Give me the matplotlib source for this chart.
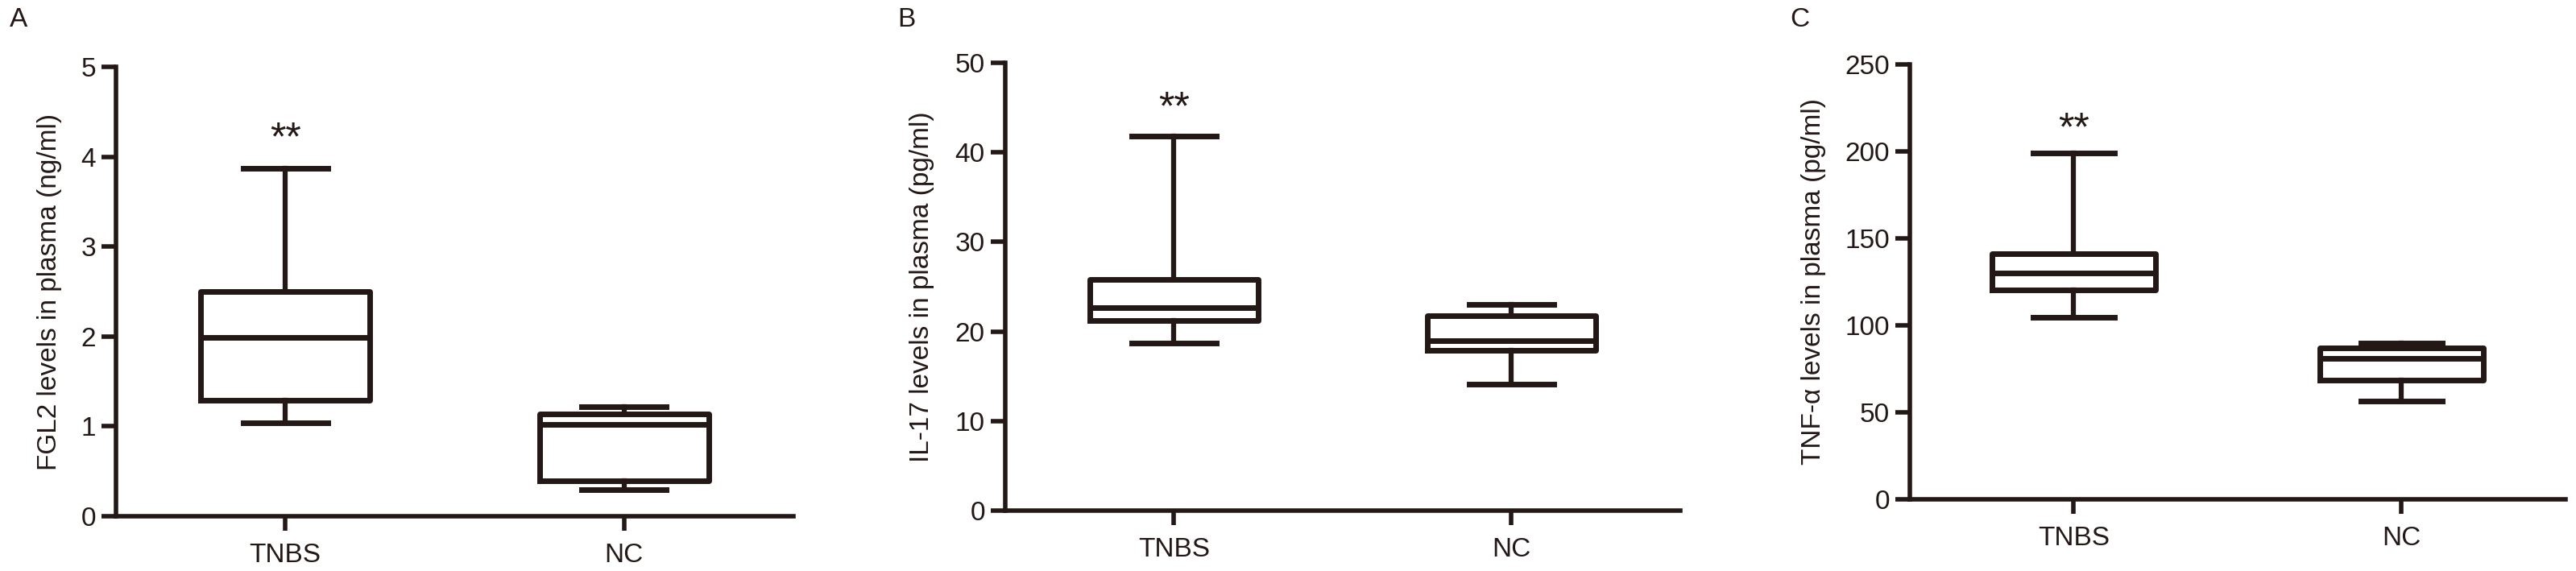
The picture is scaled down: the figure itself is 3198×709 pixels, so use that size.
import matplotlib
matplotlib.use('Agg')
import matplotlib.pyplot as plt

# Box statistics: whisker low, Q1, median, Q3, whisker high
groups = ['TNBS', 'NC']

fgl2_tnbs = [1.04, 1.29, 1.99, 2.50, 3.87]
fgl2_nc = [0.30, 0.39, 1.02, 1.14, 1.22]

il17_tnbs = [18.7, 21.2, 22.7, 25.8, 41.8]
il17_nc = [14.1, 17.9, 19.0, 21.8, 23.0]

tnf_tnbs = [104.5, 120.4, 130.0, 141.4, 199.0]
tnf_nc = [56.7, 68.3, 81.0, 87.0, 89.7]

panel_letters = ['A', 'B', 'C']
y_labels = ['FGL2 levels in plasma (ng/ml)',
            'IL-17 levels in plasma (pg/ml)',
            'TNF-\u03b1 levels in plasma (pg/ml)']
y_limits = [5, 50, 250]
y_steps = [1, 10, 50]
star_heights = [4.40, 46.9, 223]

ink = '#231815'
plt.rcParams['font.family'] = ['Liberation Sans', 'DejaVu Sans']

fig = plt.figure(figsize=(31.98, 7.09), dpi=100)

rects = [[0.0450, 0.0959, 0.2630, 0.7870],
         [0.3902, 0.1058, 0.2620, 0.7842],
         [0.7414, 0.1255, 0.2545, 0.7617]]
label_x = [-0.080, -0.105, -0.128]
letter_x = [0.0072, 0.352, 0.6986]

data = [(fgl2_tnbs, fgl2_nc), (il17_tnbs, il17_nc), (tnf_tnbs, tnf_nc)]


def to_stats(vals, name):
    lo, q1, med, q3, hi = vals
    return {'whislo': lo, 'q1': q1, 'med': med, 'q3': q3, 'whishi': hi,
            'fliers': [], 'label': name}


for i in range(3):
    ax = fig.add_axes(rects[i])
    stats = [to_stats(v, g) for v, g in zip(data[i], groups)]
    lw = 5
    ax.bxp(stats, positions=[1, 2], widths=0.5, showfliers=False,
           boxprops=dict(color=ink, linewidth=lw),
           medianprops=dict(color=ink, linewidth=lw),
           whiskerprops=dict(color=ink, linewidth=4.5),
           capprops=dict(color=ink, linewidth=lw),
           capwidths=0.25)

    ax.set_xlim(0.5, 2.5)
    ax.set_ylim(0, y_limits[i])
    ax.set_yticks(range(0, y_limits[i] + 1, y_steps[i]))
    ax.set_xticks([1, 2])
    ax.set_xticklabels(groups)

    for s in ['top', 'right']:
        ax.spines[s].set_visible(False)
    for s in ['left', 'bottom']:
        ax.spines[s].set_linewidth(4)
        ax.spines[s].set_color(ink)
    ax.spines['left'].set_capstyle('projecting')

    ax.tick_params(axis='both', length=13, width=4, color=ink,
                   labelsize=24, labelcolor=ink)
    ax.tick_params(axis='y', pad=5)
    ax.tick_params(axis='x', pad=11)

    ax.set_ylabel(y_labels[i], fontsize=24, color=ink)
    ax.yaxis.set_label_coords(label_x[i], 0.5)

    ax.text(1, star_heights[i], '**', ha='center', va='top',
            fontsize=36, color=ink)

    fig.text(letter_x[i], 0.966, panel_letters[i], ha='center', va='center',
             fontsize=24, color=ink)

fig.savefig('out.png', dpi=100)
